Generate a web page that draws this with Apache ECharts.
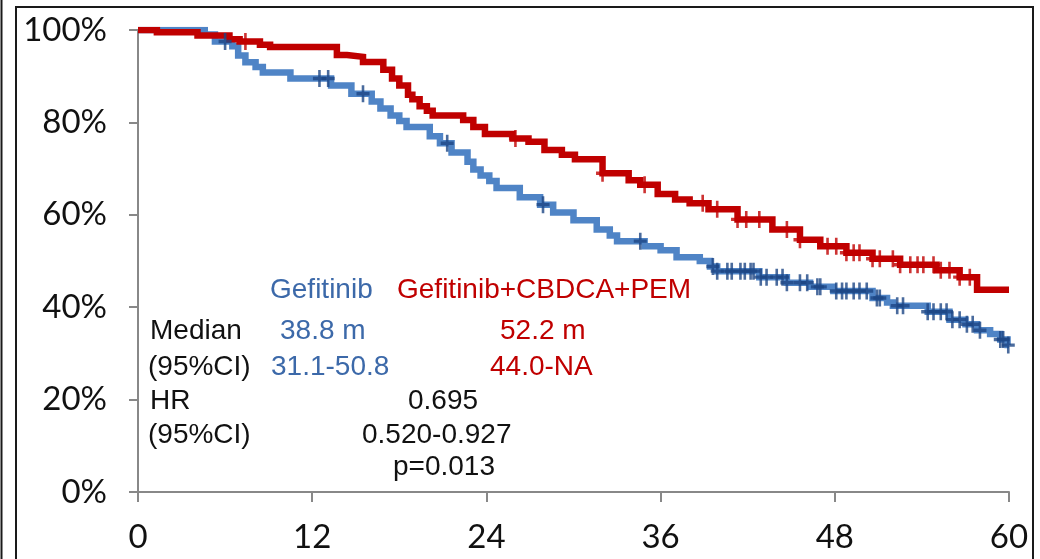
<!DOCTYPE html>
<html>
<head>
<meta charset="utf-8">
<script src="https://cdn.jsdelivr.net/npm/echarts@6/dist/echarts.min.js"></script>
<style>
  html, body { margin: 0; padding: 0; background: #fff; }
  #chart { width: 1040px; height: 559px; }
</style>
</head>
<body>
<div id="chart"></div>
<script>
// Overall survival, months since randomisation
const monthTicks = [0, 12, 24, 36, 48, 60];
const survTicks = [0, 20, 40, 60, 80, 100];

// Gefitinib arm: time of each drop (months) and survival after it (%)
const gefTimes = [0, 4.6, 5.3, 6.5, 6.9, 7.4, 8.1, 8.6, 10.5, 13.3, 14.7, 16.1, 16.7, 17.4, 18.0, 18.5,
  20.1, 20.8, 21.6, 22.7, 23.1, 23.6, 24.2, 24.7, 26.3, 27.7, 28.6, 30.0, 31.6, 32.5, 33.0, 34.9,
  36.0, 37.1, 38.7, 39.4, 39.9, 42.8, 44.7, 46.3, 47.9, 50.6, 51.6, 52.0, 54.4, 55.9, 57.0, 57.8,
  58.7, 59.4, 59.9, 60];
const gefSurv = [100, 99.0, 97.5, 96.5, 94.5, 93.0, 92.0, 90.8, 89.5, 88.0, 86.2, 84.5, 83.0, 81.5, 80.3, 79.0,
  77.0, 75.5, 73.5, 71.5, 69.8, 68.5, 67.3, 65.8, 63.8, 62.2, 60.5, 58.8, 56.8, 55.5, 54.3, 53.2,
  52.3, 50.8, 50.0, 48.8, 47.8, 46.5, 45.3, 44.4, 43.5, 42.0, 41.0, 40.3, 39.0, 37.3, 36.3, 35.0,
  34.2, 33.0, 31.8, 31.8];
const gefCensor = [6.0, 12.5, 13.1, 15.5, 21.3, 27.9, 34.6, 39.6, 39.9, 40.6, 40.9, 41.5, 41.8, 42.2, 42.4,
  42.9, 43.3, 44.0, 44.4, 44.7, 45.6, 46.1, 46.8, 47.0, 48.1, 48.5, 48.8, 49.3, 49.7, 50.2, 50.9,
  51.1, 52.3, 52.7, 54.4, 54.8, 55.3, 55.7, 56.1, 56.6, 57.1, 57.5, 58.0, 59.4, 59.6, 59.95];

// Gefitinib + CBDCA + PEM arm
const comboTimes = [0, 1.3, 4.1, 6.3, 7.0, 8.4, 9.1, 13.7, 14.4, 15.5, 16.9, 17.5, 18.0, 18.6, 18.9, 19.4,
  19.9, 20.3, 22.4, 23.1, 23.9, 25.8, 26.9, 28.0, 29.2, 30.1, 32.0, 33.8, 34.6, 35.8, 37.0, 38.0,
  39.3, 41.3, 43.7, 45.6, 47.0, 48.8, 50.6, 52.5, 55.0, 56.6, 57.8, 60];
const comboSurv = [100, 99.5, 98.8, 98.0, 97.5, 96.8, 96.3, 94.6, 94.2, 93.1, 91.4, 89.5, 88.0, 86.0, 85.0, 83.5,
  82.5, 81.5, 80.5, 79.0, 77.5, 76.5, 75.8, 74.0, 73.0, 72.0, 69.0, 67.5, 66.5, 64.5, 63.3, 62.5,
  61.2, 59.0, 56.8, 54.6, 53.2, 51.8, 50.5, 49.2, 48.0, 46.5, 43.8, 43.8];
const comboCensor = [7.4, 26.0, 32.0, 34.9, 38.9, 39.9, 41.3, 41.9, 42.8, 44.7, 45.6, 47.5, 48.1, 48.8, 49.3,
  49.7, 50.6, 51.1, 52.0, 52.5, 53.2, 53.7, 54.1, 54.8, 55.3, 55.9, 56.6, 57.3];

// Survival of an arm at time t (value of the step curve)
function survAt(times, surv, t) {
  let v = surv[0];
  for (let i = 0; i < times.length; i++) { if (times[i] <= t) v = surv[i]; else break; }
  return v;
}
const pairs = (xs, ys) => xs.map((x, i) => [x, ys[i]]);
const censorPoints = (c, xs, ys) => c.map(t => [t, survAt(xs, ys, t)]);

const PLUS = 'path://M4,0 H6 V4 H10 V6 H6 V10 H4 V6 H0 V4 H4 Z';
const BLUE_LINE = '#4f84c6';
const BLUE_MARK = '#1d4685';
const BLUE_TEXT = '#3c69a9';
const RED = '#c00000';
const TXT = 'Liberation Sans, Arial, sans-serif';

const chart = echarts.init(document.getElementById('chart'), null, { renderer: 'canvas' });

function label(text, x, y, fill) {
  return {
    type: 'text', x: x, y: y, silent: true, z: 10,
    style: { text: text, fill: fill, font: '28px ' + TXT, verticalAlign: 'middle', align: 'left' }
  };
}

chart.setOption({
  animation: false,
  backgroundColor: '#ffffff',
  grid: { left: 138, right: 31, top: 30, bottom: 67, containLabel: false },
  xAxis: {
    type: 'value', min: monthTicks[0], max: monthTicks[monthTicks.length - 1], interval: 12,
    axisLine: { lineStyle: { color: '#888888', width: 2 } },
    axisTick: { show: true, length: 10, lineStyle: { color: '#888888', width: 2 } },
    splitLine: { show: false },
    axisLabel: { margin: 29, color: '#111', fontFamily: 'Lato', fontSize: 33 }
  },
  yAxis: {
    type: 'value', min: survTicks[0], max: survTicks[survTicks.length - 1], interval: 20,
    axisLine: { show: true, lineStyle: { color: '#888888', width: 2 } },
    axisTick: { show: true, length: 9, lineStyle: { color: '#888888', width: 2 } },
    splitLine: { show: false },
    axisLabel: { margin: 31, color: '#111', fontFamily: 'Lato', fontSize: 33, formatter: '{value}%' }
  },
  series: [
    {
      name: 'Gefitinib', type: 'line', step: 'end', symbol: 'none', z: 2,
      lineStyle: { color: BLUE_LINE, width: 6.5, join: 'miter' },
      data: pairs(gefTimes, gefSurv)
    },
    {
      name: 'Gefitinib+CBDCA+PEM', type: 'line', step: 'end', symbol: 'none', z: 3,
      lineStyle: { color: RED, width: 6.5, join: 'miter' },
      data: pairs(comboTimes, comboSurv)
    },
    {
      name: 'Gefitinib censored', type: 'scatter', symbol: PLUS, symbolSize: [13, 17], z: 4,
      itemStyle: { color: BLUE_MARK },
      data: censorPoints(gefCensor, gefTimes, gefSurv)
    },
    {
      name: 'Combination censored', type: 'scatter', symbol: PLUS, symbolSize: [13, 17], z: 4,
      itemStyle: { color: RED },
      data: censorPoints(comboCensor, comboTimes, comboSurv)
    }
  ],
  graphic: [
    { type: 'rect', silent: true, z: 0, shape: { x: 16, y: 7, width: 1017, height: 620 },
      style: { fill: 'none', stroke: '#1a1a1a', lineWidth: 2 } },
    { type: 'line', silent: true, z: 0, shape: { x1: 1.5, y1: 0, x2: 1.5, y2: 559 },
      style: { stroke: '#1a1a1a', lineWidth: 2 } },
    label('Gefitinib', 270, 290, BLUE_TEXT),
    label('Gefitinib+CBDCA+PEM', 397, 290, RED),
    label('Median', 150, 331, '#111'),
    label('38.8 m', 280, 331, BLUE_TEXT),
    label('52.2 m', 500, 331, RED),
    label('(95%CI)', 148, 367, '#111'),
    label('31.1-50.8', 271, 367, BLUE_TEXT),
    label('44.0-NA', 490, 367, RED),
    label('HR', 150, 401, '#111'),
    label('0.695', 408, 401, '#111'),
    label('(95%CI)', 148, 435, '#111'),
    label('0.520-0.927', 362, 435, '#111'),
    label('p=0.013', 393, 467, '#111')
  ]
});
</script>
</body>
</html>
